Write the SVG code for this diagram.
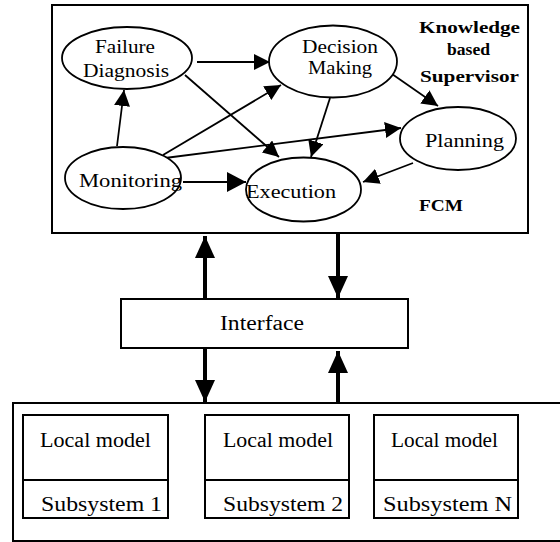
<svg xmlns="http://www.w3.org/2000/svg" width="560" height="542" viewBox="0 0 560 542">
<style>
.box{fill:#fff;stroke:#000;stroke-width:2}
.ell{fill:#fff;stroke:#000;stroke-width:1.8}
text{font-family:'Times New Roman','Liberation Serif','DejaVu Serif',serif;fill:#000}
.t{font-size:18px}
.tb{font-size:20px}
.b{font-size:16px;font-weight:bold}
.e{fill:none;stroke:#000;stroke-width:1.8}
.big{fill:none;stroke:#000;stroke-width:4}
</style>
<defs>
<marker id="ah" markerUnits="userSpaceOnUse" markerWidth="16" markerHeight="16" viewBox="0 0 16 16" refX="16" refY="8" orient="auto">
<path d="M0,0 L16,8 L0,16 Z" fill="#000"/>
</marker>
<marker id="ahl" markerUnits="userSpaceOnUse" markerWidth="19" markerHeight="20" viewBox="0 0 19 20" refX="19" refY="10" orient="auto">
<path d="M0,0 L19,10 L0,20 Z" fill="#000"/>
</marker>
<marker id="ahb" markerUnits="userSpaceOnUse" markerWidth="22" markerHeight="20" viewBox="0 0 22 20" refX="22" refY="10" orient="auto">
<path d="M0,0 L22,10 L0,20 Z" fill="#000"/>
</marker>
</defs>

<g id="supervisor">
<rect class="box" x="52" y="5" width="476" height="228"/>
<text class="b" x="419" y="33" textLength="101" lengthAdjust="spacingAndGlyphs">Knowledge</text>
<text class="b" x="447" y="55" textLength="43" lengthAdjust="spacingAndGlyphs">based</text>
<text class="b" x="420" y="82" textLength="99" lengthAdjust="spacingAndGlyphs">Supervisor</text>
<text class="b" x="419" y="211" textLength="44" lengthAdjust="spacingAndGlyphs">FCM</text>
</g>

<g id="connectors">
<line class="e" x1="197" y1="62" x2="270" y2="62" marker-end="url(#ah)"/>
<line class="e" x1="185" y1="75" x2="279" y2="157" marker-end="url(#ah)"/>
<line class="e" x1="117" y1="146" x2="124" y2="90" marker-end="url(#ah)"/>
<line class="e" x1="163" y1="155" x2="281" y2="85" marker-end="url(#ah)"/>
<line class="e" x1="165" y1="158" x2="401" y2="128" marker-end="url(#ah)"/>
<line class="e" x1="330" y1="98" x2="311" y2="157" marker-end="url(#ah)"/>
<line class="e" x1="392" y1="74" x2="438" y2="106" marker-end="url(#ah)"/>
<line class="e" x1="413" y1="163" x2="363" y2="182" marker-end="url(#ah)"/>
<line class="e" x1="183" y1="182" x2="246" y2="182" marker-end="url(#ahl)"/>
<line class="big" x1="205" y1="299" x2="205" y2="236" marker-end="url(#ahb)"/>
<line class="big" x1="338" y1="233" x2="338" y2="298" marker-end="url(#ahb)"/>
<line class="big" x1="205" y1="348" x2="205" y2="402" marker-end="url(#ahb)"/>
<line class="big" x1="338" y1="403" x2="338" y2="351" marker-end="url(#ahb)"/>
</g>

<g id="failure-diagnosis">
<ellipse class="ell" cx="127" cy="58" rx="65" ry="31"/>
<text class="t" x="95" y="53" textLength="60" lengthAdjust="spacingAndGlyphs">Failure</text>
<text class="t" x="83" y="77" textLength="86" lengthAdjust="spacingAndGlyphs">Diagnosis</text>
</g>

<g id="decision-making">
<ellipse class="ell" cx="333" cy="61.5" rx="64" ry="36"/>
<text class="t" x="302" y="53" textLength="76" lengthAdjust="spacingAndGlyphs">Decision</text>
<text class="t" x="308" y="74" textLength="64" lengthAdjust="spacingAndGlyphs">Making</text>
</g>

<g id="planning">
<ellipse class="ell" cx="458" cy="138.5" rx="58" ry="31.5"/>
<text class="t" x="425" y="147" textLength="79" lengthAdjust="spacingAndGlyphs">Planning</text>
</g>

<g id="monitoring">
<ellipse class="ell" cx="123" cy="178" rx="58" ry="31"/>
<text class="t" x="79" y="187" textLength="103" lengthAdjust="spacingAndGlyphs">Monitoring</text>
</g>

<g id="execution">
<ellipse class="ell" cx="303.5" cy="189.5" rx="57.5" ry="32"/>
<text class="t" x="246" y="198" textLength="90" lengthAdjust="spacingAndGlyphs">Execution</text>
</g>

<g id="interface">
<rect class="box" x="121" y="299" width="287" height="49"/>
<text class="tb" x="220" y="330" textLength="84" lengthAdjust="spacingAndGlyphs">Interface</text>
</g>

<g id="plant">
<path class="box" d="M570,403 L13,403 L13,541 L570,541"/>
</g>

<g id="subsystem-1">
<rect class="box" x="23" y="415" width="145" height="103"/>
<line class="box" x1="23" y1="480" x2="168" y2="480"/>
<text class="tb" x="40" y="447" textLength="111" lengthAdjust="spacingAndGlyphs">Local model</text>
<text class="tb" x="41" y="511" textLength="121" lengthAdjust="spacingAndGlyphs">Subsystem 1</text>
</g>

<g id="subsystem-2">
<rect class="box" x="205" y="415" width="144" height="103"/>
<line class="box" x1="205" y1="480" x2="349" y2="480"/>
<text class="tb" x="223" y="447" textLength="110" lengthAdjust="spacingAndGlyphs">Local model</text>
<text class="tb" x="223" y="511" textLength="120" lengthAdjust="spacingAndGlyphs">Subsystem 2</text>
</g>

<g id="subsystem-n">
<rect class="box" x="374" y="415" width="144" height="103"/>
<line class="box" x1="374" y1="480" x2="518" y2="480"/>
<text class="tb" x="391" y="447" textLength="107" lengthAdjust="spacingAndGlyphs">Local model</text>
<text class="tb" x="383" y="511" textLength="129" lengthAdjust="spacingAndGlyphs">Subsystem N</text>
</g>
</svg>
